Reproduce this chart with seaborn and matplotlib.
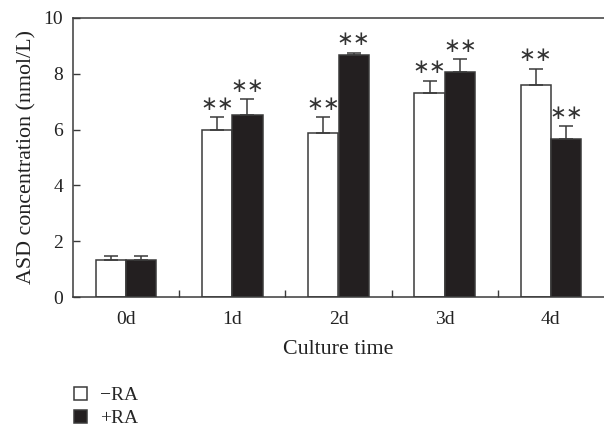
import numpy as np
import pandas as pd
import matplotlib
matplotlib.use("Agg")
import matplotlib.pyplot as plt
import seaborn as sns

days = ["0d", "1d", "2d", "3d", "4d"]
groups = ["\u2212RA", "+RA"]
minus_ra = [1.33, 5.97, 5.88, 7.31, 7.61]
plus_ra = [1.33, 6.51, 8.67, 8.05, 5.66]
minus_err = [0.14, 0.48, 0.57, 0.44, 0.57]
plus_err = [0.14, 0.58, 0.09, 0.47, 0.46]
minus_sig = ["", "**", "**", "**", "**"]
plus_sig = ["", "**", "**", "**", "**"]

sns.set_theme(style="ticks")
plt.rcParams["font.family"] = ["Liberation Serif", "DejaVu Serif"]

TICK_FS = 14
LABEL_FS = 15.8
LEG_FS = 14
df = pd.DataFrame({
    "day": days * 2,
    "group": [groups[0]] * 5 + [groups[1]] * 5,
    "value": minus_ra + plus_ra,
})

fig = plt.figure(figsize=(6.04, 4.30), dpi=100)
ax = fig.add_axes([73 / 604, 133 / 430, 531 / 604, 279 / 430])

edge = "#3a3a3a"
fill = "#231f20"
txt = "#222222"
sns.barplot(data=df, x="day", y="value", hue="group", order=days,
            hue_order=groups, palette=["white", fill], errorbar=None,
            width=0.57, gap=0, edgecolor=edge, linewidth=1.1, ax=ax,
            legend=True, saturation=1)

for cont, vals, errs, sigs in zip(ax.containers, [minus_ra, plus_ra],
                                  [minus_err, plus_err], [minus_sig, plus_sig]):
    xs = [p.get_x() + p.get_width() / 2 for p in cont.patches]
    ax.errorbar(xs, vals, yerr=[np.zeros(len(vals)), errs], fmt="none",
                ecolor=edge, elinewidth=1.1, capsize=5, capthick=1.1, zorder=3)
    for x, v, e, s in zip(xs, vals, errs, sigs):
        if s:
            ax.text(x, v + e + 0.12, "\u2217\u2217", ha="center", va="bottom",
                    fontsize=14.5, color="#333333", family=["DejaVu Sans"])

ax.set_xlim(-0.5, 4.5)
ax.set_ylim(0, 10)
ax.set_yticks([0, 2, 4, 6, 8, 10])
ax.set_xticks(range(5))
ax.set_xticklabels(days)
ax.set_xticks([0.5, 1.5, 2.5, 3.5], minor=True)
ax.tick_params(axis="x", which="major", length=0, labelsize=TICK_FS, pad=10,
               colors=txt)
ax.tick_params(axis="x", which="minor", direction="in", length=5,
               width=1, color=edge)
ax.tick_params(axis="y", direction="in", length=5, width=1, color=edge,
               labelsize=TICK_FS, labelcolor=txt, pad=7)
ax.set_xlabel("Culture time", fontsize=LABEL_FS, color=txt, labelpad=9)
ax.set_ylabel("ASD concentration (nmol/L)", fontsize=LABEL_FS, color=txt,
              labelpad=5)
for side in ["left", "top", "bottom"]:
    ax.spines[side].set_color(edge)
    ax.spines[side].set_linewidth(1.1)
ax.spines["right"].set_visible(False)

handles, labels = ax.get_legend_handles_labels()
ax.get_legend().remove()
fig.legend(handles, labels, loc="upper left", bbox_to_anchor=(64 / 604, 1 - 377 / 430),
           frameon=False, fontsize=LEG_FS, handlelength=0.68, handleheight=0.64,
           handletextpad=0.68, labelspacing=0.3, borderpad=0)

fig.savefig("out.png", dpi=100, facecolor="white")
